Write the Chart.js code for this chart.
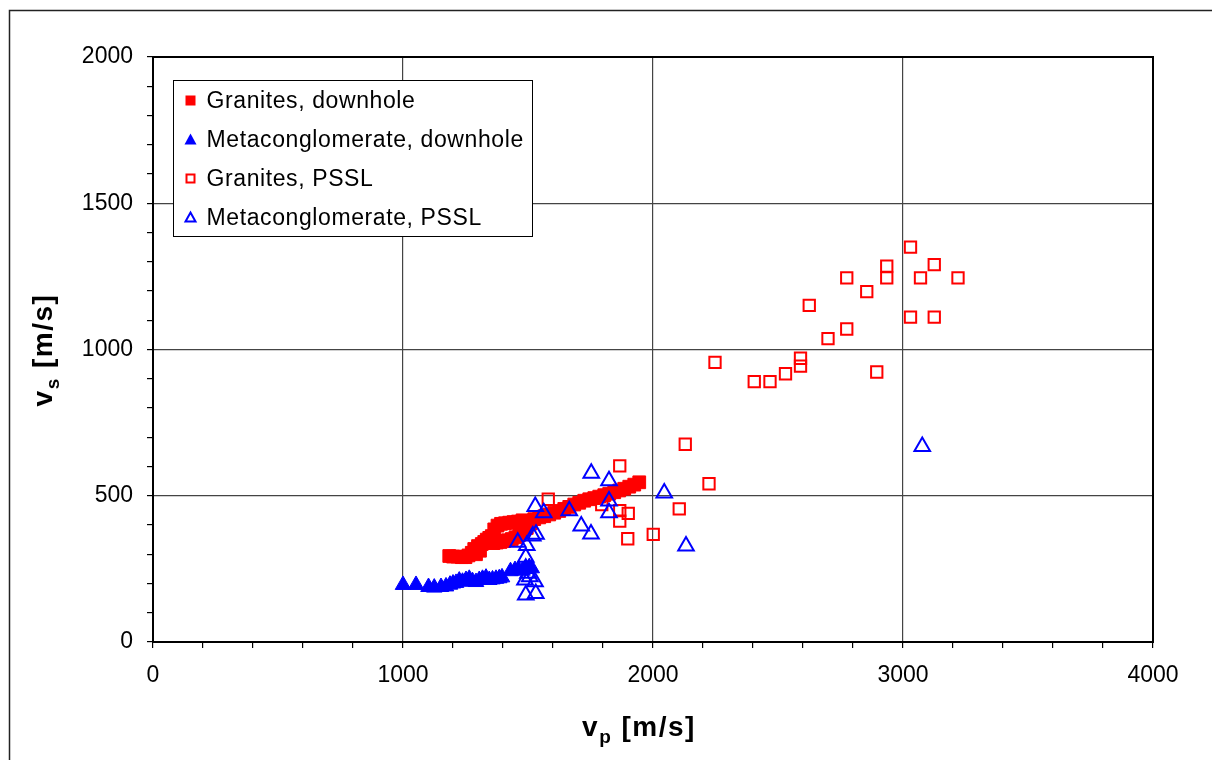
<!DOCTYPE html>
<html>
<head>
<meta charset="utf-8">
<script src="https://cdn.jsdelivr.net/npm/chart.js@4.4.0/dist/chart.umd.min.js"></script>
<style>
  html, body { margin: 0; padding: 0; background: #fff; }
  #wrap { position: relative; width: 1212px; height: 760px; }
</style>
</head>
<body>
<div id="wrap"><canvas id="chart" width="1212" height="760"></canvas></div>
<script>
// axis ticks
const xMajorTicks = [0, 1000, 2000, 3000, 4000];
const yMajorTicks = [0, 500, 1000, 1500, 2000];

const seriesNames = [
  "Granites, downhole",
  "Metaconglomerate, downhole",
  "Granites, PSSL",
  "Metaconglomerate, PSSL"
];

// Granites, downhole (filled red squares)
const graniteDhVp = [1185, 1200, 1218, 1235, 1250, 1262, 1275, 1285, 1292, 1300, 1308, 1315, 1325, 1335, 1345, 1355,
  1362, 1375, 1390, 1405, 1420, 1435, 1450, 1465, 1480, 1495,
  1365, 1378, 1392, 1408, 1425, 1442, 1460, 1478, 1510, 1525, 1545, 1565, 1585, 1605, 1625, 1645,
  1665, 1685, 1705, 1725, 1745, 1765, 1785, 1805, 1825, 1845, 1865, 1885, 1905, 1925, 1945];
const graniteDhVs = [294, 292, 292, 290, 290, 296, 305, 318, 300, 328, 312, 335, 342, 350, 356, 362,
  338, 340, 342, 345, 348, 352, 358, 366, 378, 390,
  385, 398, 404, 406, 408, 410, 412, 416, 405, 420, 426, 430, 436, 442, 448, 455,
  462, 470, 476, 483, 488, 492, 497, 502, 507, 512, 518, 524, 531, 538, 546];

// Metaconglomerate, downhole (filled blue triangles)
const metaDhVp = [1000, 1052, 1102, 1125, 1152, 1172, 1188, 1200, 1212, 1225, 1238, 1252, 1265, 1278, 1292,
  1305, 1318, 1332, 1345, 1358, 1372, 1385, 1396, 1430, 1448, 1462, 1478, 1490, 1505, 1515];
const metaDhVs = [195, 195, 188, 186, 188, 190, 196, 200, 202, 210, 206, 212, 216, 208, 205,
  212, 216, 220, 212, 214, 216, 218, 221, 242, 246, 248, 244, 250, 256, 252];

// Granites, PSSL (open red squares)
const granitePsslVp = [3030, 3125, 2935, 2935, 2775, 3070, 3220, 2855, 2625, 3030, 3125, 2775, 2700, 2248, 2590, 2590,
  2530, 2405, 2468, 2895, 2224, 2129, 1867, 1581, 2105, 1795, 1867, 1901, 1867, 1899, 2001];
const granitePsslVs = [1350, 1290, 1285, 1245, 1245, 1245, 1245, 1198, 1151, 1111, 1111, 1070, 1037, 956, 970, 943,
  917, 890, 890, 923, 541, 676, 602, 488, 455, 470, 449, 440, 413, 353, 368];

// Metaconglomerate, PSSL (open blue triangles)
const metaPsslVp = [3077, 1753, 1824, 2045, 1529, 1563, 1665, 1824, 1824, 1713, 1752, 2132, 1459, 1495, 1519, 1532,
  1491, 1491, 1500, 1488, 1528, 1507, 1491, 1531];
const metaPsslVs = [668, 577, 551, 509, 463, 442, 449, 482, 442, 397, 369, 328, 341, 330, 362, 368,
  290, 252, 235, 212, 206, 223, 161, 166];

const RED = '#ff0000';
const BLUE = '#0000ff';
const FONT = 'Arial, "Liberation Sans", sans-serif';

function toPoints(xs, ys) {
  return xs.map((x, i) => ({ x: x, y: ys[i] }));
}

function minorTicks(max, step) {
  const out = [];
  for (let v = 0; v <= max; v += step) out.push({ value: v });
  return out;
}

// legend look per series
const legendStyles = [
  { shape: 'rect', fill: true, color: RED },
  { shape: 'tri', fill: true, color: BLUE },
  { shape: 'rect', fill: false, color: RED },
  { shape: 'tri', fill: false, color: BLUE }
];

function drawMarker(ctx, st, x, y) {
  ctx.save();
  ctx.strokeStyle = st.color;
  ctx.fillStyle = st.color;
  ctx.lineWidth = 2;
  if (st.shape === 'rect') {
    if (st.fill) ctx.fillRect(x - 5, y - 5, 10, 10);
    else ctx.strokeRect(x - 4, y - 4, 8, 8);
  } else {
    ctx.beginPath();
    if (st.fill) {
      ctx.moveTo(x, y - 6); ctx.lineTo(x + 6, y + 5); ctx.lineTo(x - 6, y + 5);
      ctx.closePath(); ctx.fill();
    } else {
      ctx.moveTo(x, y - 5); ctx.lineTo(x + 5, y + 4); ctx.lineTo(x - 5, y + 4);
      ctx.closePath(); ctx.stroke();
    }
  }
  ctx.restore();
}

const TITLE_SIZE = 28;
const SUB_SIZE = 19;
const TITLE_SPACING = '1.5px';

function drawSubLabel(ctx, main, sub, rest) {
  // draws at origin, left aligned on baseline
  ctx.letterSpacing = TITLE_SPACING;
  ctx.font = 'bold ' + TITLE_SIZE + 'px ' + FONT;
  ctx.fillText(main, 0, 0);
  let w = ctx.measureText(main).width;
  ctx.font = 'bold ' + SUB_SIZE + 'px ' + FONT;
  ctx.fillText(sub, w, 7);
  w += ctx.measureText(sub).width;
  ctx.font = 'bold ' + TITLE_SIZE + 'px ' + FONT;
  ctx.fillText(rest, w, 0);
  w += ctx.measureText(rest).width;
  ctx.letterSpacing = '0px';
  return w;
}

function labelWidth(ctx, main, sub, rest) {
  ctx.letterSpacing = TITLE_SPACING;
  ctx.font = 'bold ' + TITLE_SIZE + 'px ' + FONT;
  let w = ctx.measureText(main).width + ctx.measureText(rest).width;
  ctx.font = 'bold ' + SUB_SIZE + 'px ' + FONT;
  w += ctx.measureText(sub).width;
  ctx.letterSpacing = '0px';
  return w;
}

const framePlugin = {
  id: 'frame',
  beforeDraw(chart) {
    const ctx = chart.ctx;
    ctx.save();
    ctx.fillStyle = '#fff';
    ctx.fillRect(0, 0, chart.width, chart.height);
    ctx.strokeStyle = '#222';
    ctx.lineWidth = 1.5;
    ctx.beginPath();
    ctx.moveTo(9.5, chart.height + 5);
    ctx.lineTo(9.5, 10.5);
    ctx.lineTo(chart.width + 5, 10.5);
    ctx.stroke();
    ctx.restore();
  },
  afterDraw(chart) {
    const ctx = chart.ctx;
    const a = chart.chartArea;
    ctx.save();
    // plot border
    ctx.strokeStyle = '#000';
    ctx.lineWidth = 2;
    ctx.strokeRect(a.left, a.top, a.right - a.left, a.bottom - a.top);

    // legend box inside plot
    const lx = a.left + 20.5, ly = a.top + 23.5, lw = 359, lh = 156;
    ctx.fillStyle = '#fff';
    ctx.fillRect(lx, ly, lw, lh);
    ctx.strokeStyle = '#000';
    ctx.lineWidth = 1;
    ctx.strokeRect(lx, ly, lw, lh);
    ctx.fillStyle = '#000';
    ctx.textBaseline = 'middle';
    ctx.textAlign = 'left';
    seriesNames.forEach((name, i) => {
      const cy = ly + 20 + i * 39;
      drawMarker(ctx, legendStyles[i], lx + 17, cy);
      ctx.fillStyle = '#000';
      ctx.font = '23px ' + FONT;
      ctx.letterSpacing = '0.6px';
      ctx.fillText(name, lx + 33, cy + 1);
      ctx.letterSpacing = '0px';
    });

    // axis titles
    ctx.fillStyle = '#000';
    ctx.textBaseline = 'alphabetic';
    const xw = labelWidth(ctx, 'v', 'p', ' [m/s]');
    ctx.save();
    ctx.translate(639 - xw / 2, 736);
    drawSubLabel(ctx, 'v', 'p', ' [m/s]');
    ctx.restore();

    const yw = labelWidth(ctx, 'v', 's', ' [m/s]');
    ctx.save();
    ctx.translate(52, 350 + yw / 2);
    ctx.rotate(-Math.PI / 2);
    drawSubLabel(ctx, 'v', 's', ' [m/s]');
    ctx.restore();

    ctx.restore();
  }
};

const ctx = document.getElementById('chart').getContext('2d');

new Chart(ctx, {
  type: 'scatter',
  data: {
    datasets: [
      {
        label: seriesNames[2],
        data: toPoints(granitePsslVp, granitePsslVs),
        pointStyle: 'rect',
        pointRadius: 8,
        borderWidth: 2,
        borderColor: RED,
        backgroundColor: 'rgba(0,0,0,0)',
        order: 3
      },
      {
        label: seriesNames[0],
        data: toPoints(graniteDhVp, graniteDhVs),
        pointStyle: 'rect',
        pointRadius: 9,
        borderWidth: 1,
        borderColor: RED,
        backgroundColor: RED,
        order: 2
      },
      {
        label: seriesNames[1],
        data: toPoints(metaDhVp, metaDhVs),
        pointStyle: 'triangle',
        pointRadius: 9,
        borderWidth: 1,
        borderColor: BLUE,
        backgroundColor: BLUE,
        order: 1
      },
      {
        label: seriesNames[3],
        data: toPoints(metaPsslVp, metaPsslVs),
        pointStyle: 'triangle',
        pointRadius: 9,
        borderWidth: 2,
        borderColor: BLUE,
        backgroundColor: 'rgba(0,0,0,0)',
        order: 0
      }
    ]
  },
  options: {
    responsive: false,
    animation: false,
    events: [],
    layout: { padding: { left: 0, top: 57, right: 59, bottom: 0 } },
    plugins: {
      legend: { display: false },
      tooltip: { enabled: false }
    },
    scales: {
      x: {
        type: 'linear',
        min: 0,
        max: 4000,
        afterBuildTicks: s => { s.ticks = minorTicks(4000, 200); },
        afterFit: s => { s.height = 118; },
        ticks: {
          autoSkip: false,
          maxRotation: 0,
          color: '#000',
          padding: 14,
          font: { family: FONT, size: 23 },
          callback: v => xMajorTicks.includes(v) ? String(v) : ''
        },
        grid: {
          color: c => (c.tick && xMajorTicks.includes(c.tick.value)) ? '#444' : 'rgba(0,0,0,0)',
          lineWidth: 1.2,
          tickColor: '#000',
          tickLength: 6,
          tickWidth: 1.2
        },
        border: { color: '#000', width: 2 }
      },
      y: {
        type: 'linear',
        min: 0,
        max: 2000,
        afterBuildTicks: s => { s.ticks = minorTicks(2000, 100); },
        afterFit: s => { s.width = 153; },
        ticks: {
          autoSkip: false,
          color: '#000',
          padding: 14,
          font: { family: FONT, size: 23 },
          callback: v => yMajorTicks.includes(v) ? String(v) : ''
        },
        grid: {
          color: c => (c.tick && yMajorTicks.includes(c.tick.value)) ? '#444' : 'rgba(0,0,0,0)',
          lineWidth: 1.2,
          tickColor: '#000',
          tickLength: 6,
          tickWidth: 1.2
        },
        border: { color: '#000', width: 2 }
      }
    }
  },
  plugins: [framePlugin]
});
</script>
</body>
</html>
